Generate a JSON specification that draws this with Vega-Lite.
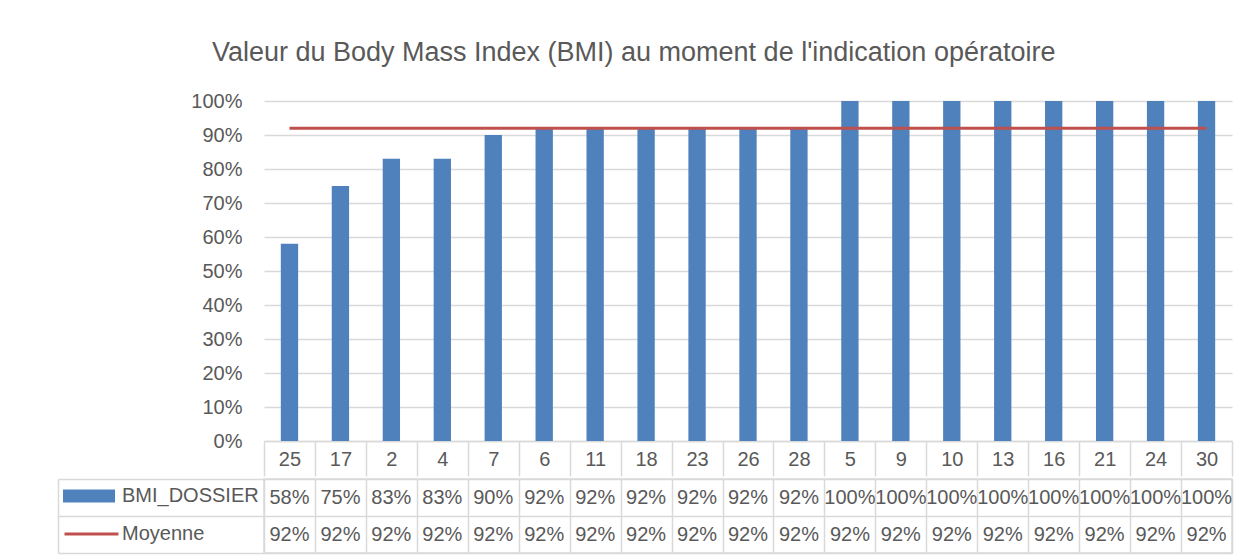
{
  "$schema": "https://vega.github.io/schema/vega-lite/v6.json",
  "padding": {"left": 56, "top": 39, "right": 10, "bottom": 5},
  "config": {
    "font": "Liberation Sans",
    "concat": {"spacing": 0},
    "axis": {"labelFont": "Liberation Sans", "labelColor": "#595959", "labelFontSize": 20},
    "legend": {"labelFont": "Liberation Sans"}
  },
  "title": {"text": "Valeur du Body Mass Index (BMI) au moment de l'indication opératoire", "fontSize": 27, "fontWeight": "normal", "color": "#595959", "anchor": "middle", "offset": 24, "dx": -11},
  "resolve": {"legend": {"shape": "independent", "fill": "independent", "stroke": "independent"}},
  "data": {"values": [
    {"cat": "25", "serie": "BMI_DOSSIER", "value": 0.58},
    {"cat": "17", "serie": "BMI_DOSSIER", "value": 0.75},
    {"cat": "2", "serie": "BMI_DOSSIER", "value": 0.83},
    {"cat": "4", "serie": "BMI_DOSSIER", "value": 0.83},
    {"cat": "7", "serie": "BMI_DOSSIER", "value": 0.90},
    {"cat": "6", "serie": "BMI_DOSSIER", "value": 0.92},
    {"cat": "11", "serie": "BMI_DOSSIER", "value": 0.92},
    {"cat": "18", "serie": "BMI_DOSSIER", "value": 0.92},
    {"cat": "23", "serie": "BMI_DOSSIER", "value": 0.92},
    {"cat": "26", "serie": "BMI_DOSSIER", "value": 0.92},
    {"cat": "28", "serie": "BMI_DOSSIER", "value": 0.92},
    {"cat": "5", "serie": "BMI_DOSSIER", "value": 1.0},
    {"cat": "9", "serie": "BMI_DOSSIER", "value": 1.0},
    {"cat": "10", "serie": "BMI_DOSSIER", "value": 1.0},
    {"cat": "13", "serie": "BMI_DOSSIER", "value": 1.0},
    {"cat": "16", "serie": "BMI_DOSSIER", "value": 1.0},
    {"cat": "21", "serie": "BMI_DOSSIER", "value": 1.0},
    {"cat": "24", "serie": "BMI_DOSSIER", "value": 1.0},
    {"cat": "30", "serie": "BMI_DOSSIER", "value": 1.0},
    {"cat": "25", "serie": "Moyenne", "value": 0.92},
    {"cat": "17", "serie": "Moyenne", "value": 0.92},
    {"cat": "2", "serie": "Moyenne", "value": 0.92},
    {"cat": "4", "serie": "Moyenne", "value": 0.92},
    {"cat": "7", "serie": "Moyenne", "value": 0.92},
    {"cat": "6", "serie": "Moyenne", "value": 0.92},
    {"cat": "11", "serie": "Moyenne", "value": 0.92},
    {"cat": "18", "serie": "Moyenne", "value": 0.92},
    {"cat": "23", "serie": "Moyenne", "value": 0.92},
    {"cat": "26", "serie": "Moyenne", "value": 0.92},
    {"cat": "28", "serie": "Moyenne", "value": 0.92},
    {"cat": "5", "serie": "Moyenne", "value": 0.92},
    {"cat": "9", "serie": "Moyenne", "value": 0.92},
    {"cat": "10", "serie": "Moyenne", "value": 0.92},
    {"cat": "13", "serie": "Moyenne", "value": 0.92},
    {"cat": "16", "serie": "Moyenne", "value": 0.92},
    {"cat": "21", "serie": "Moyenne", "value": 0.92},
    {"cat": "24", "serie": "Moyenne", "value": 0.92},
    {"cat": "30", "serie": "Moyenne", "value": 0.92}
  ]},
  "vconcat": [
    {
      "width": 968,
      "height": 340,
      "view": {"stroke": null},
      "encoding": {
        "x": {"field": "cat", "type": "nominal",
          "scale": {"domain": ["25","17","2","4","7","6","11","18","23","26","28","5","9","10","13","16","21","24","30"], "paddingInner": 0, "paddingOuter": 0},
          "axis": {"title": null, "orient": "bottom", "labelAngle": 0, "domain": true, "domainColor": "#d9d9d9", "domainWidth": 1.5, "ticks": true, "tickBand": "extent", "tickSize": 35, "tickColor": "#d9d9d9", "tickWidth": 1.5, "labelPadding": -17, "labelBaseline": "middle", "grid": false}},
        "y": {"field": "value", "type": "quantitative",
          "scale": {"domain": [0, 1], "nice": false},
          "axis": {"title": null, "values": [0,0.1,0.2,0.3,0.4,0.5,0.6,0.7,0.8,0.9,1], "format": ".0%", "domain": false, "ticks": false, "labelPadding": 22, "grid": true, "gridColor": "#d9d9d9", "gridWidth": 1.5}}
      },
      "layer": [
        {"transform": [{"filter": "datum.serie === 'BMI_DOSSIER'"}],
         "mark": {"type": "bar", "color": "#4f81bd", "width": {"band": 0.34}}},
        {"transform": [{"filter": "datum.serie === 'Moyenne'"}],
         "mark": {"type": "line", "color": "#c0504d", "strokeWidth": 3}}
      ]
    },
    {
      "width": 968,
      "height": 74,
      "view": {"stroke": "#d9d9d9", "strokeWidth": 1.5},
      "encoding": {
        "x": {"field": "cat", "type": "nominal",
          "scale": {"domain": ["25","17","2","4","7","6","11","18","23","26","28","5","9","10","13","16","21","24","30"], "paddingInner": 0, "paddingOuter": 0},
          "axis": {"title": null, "orient": "top", "labels": false, "ticks": false, "domain": false, "grid": true, "tickBand": "extent", "gridColor": "#d9d9d9", "gridWidth": 1.5}},
        "y": {"field": "serie", "type": "nominal",
          "scale": {"domain": ["BMI_DOSSIER", "Moyenne"], "paddingInner": 0, "paddingOuter": 0}}
      },
      "layer": [
        {"mark": {"type": "text", "fontSize": 20, "color": "#595959", "font": "Liberation Sans"},
         "encoding": {
           "y": {"field": "serie", "type": "nominal", "axis": {"title": null, "orient": "left", "labels": false, "domain": false, "ticks": true, "tickBand": "extent", "tickSize": 206, "tickColor": "#d9d9d9", "tickWidth": 1.5, "grid": true, "gridColor": "#d9d9d9", "gridWidth": 1.5}},
           "text": {"field": "value", "type": "quantitative", "format": ".0%"}
         }},
        {"mark": {"type": "point", "opacity": 0},
         "encoding": {
           "y": {"field": "serie", "type": "nominal", "axis": {"title": null, "orient": "left", "offset": 206, "labels": false, "ticks": false, "grid": false, "domain": true, "domainColor": "#d9d9d9", "domainWidth": 1.5}},
           "shape": {"field": "serie", "type": "nominal", "scale": {"domain": ["BMI_DOSSIER", "Moyenne"], "range": ["M-1,-0.77H6.54V0.77H-1Z", "M-1,0H7.3"]},
             "legend": {"title": null, "orient": "none", "legendX": -203, "legendY": 7, "symbolSize": 169, "symbolStrokeWidth": 3, "symbolOpacity": 1, "labelFontSize": 20, "labelColor": "#595959", "labelOffset": 41, "rowPadding": 16, "padding": 0}},
           "fill": {"field": "serie", "type": "nominal", "scale": {"domain": ["BMI_DOSSIER", "Moyenne"], "range": ["#4f81bd", "transparent"]}, "legend": {"title": null, "orient": "none", "legendX": -203, "legendY": 7, "symbolSize": 169, "symbolStrokeWidth": 3, "symbolOpacity": 1, "labelFontSize": 20, "labelColor": "#595959", "labelOffset": 41, "rowPadding": 16, "padding": 0}},
           "stroke": {"field": "serie", "type": "nominal", "scale": {"domain": ["BMI_DOSSIER", "Moyenne"], "range": ["#4f81bd", "#c0504d"]}, "legend": {"title": null, "orient": "none", "legendX": -203, "legendY": 7, "symbolSize": 169, "symbolStrokeWidth": 3, "symbolOpacity": 1, "labelFontSize": 20, "labelColor": "#595959", "labelOffset": 41, "rowPadding": 16, "padding": 0}}
         }}
      ],
      "resolve": {"axis": {"y": "independent"}}
    }
  ]
}
